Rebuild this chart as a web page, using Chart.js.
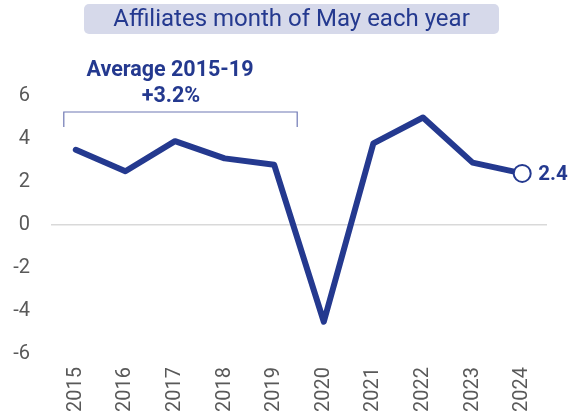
<!DOCTYPE html>
<html>
<head>
<meta charset="utf-8">
<script src="https://cdn.jsdelivr.net/npm/chart.js@4"></script>
<style>
  html, body { margin: 0; padding: 0; background: #ffffff; }
  #wrap { width: 569px; height: 420px; }
</style>
</head>
<body>
<div id="wrap"><canvas id="c" width="569" height="420"></canvas></div>
<script>
const years = ['2015','2016','2017','2018','2019','2020','2021','2022','2023','2024'];
const affiliates = [3.5, 2.5, 3.9, 3.1, 2.8, -4.5, 3.8, 5.0, 2.9, 2.4];
const yTicks = [-6, -4, -2, 0, 2, 4, 6];
const titleText = 'Affiliates month of May each year';
const avgLabel = ['Average 2015-19', '+3.2%'];
const avgRange = [0, 4];

const NAVY = '#24398f';
const GREY = '#595959';

const overlay = {
  id: 'overlay',
  afterDraw(chart) {
    const ctx = chart.ctx;
    const xs = chart.scales.x, ys = chart.scales.y;
    ctx.save();
    // title box
    const bx = 84, by = 4, bw = 415, bh = 30, r = 5;
    ctx.fillStyle = '#d6d9ea';
    ctx.beginPath();
    ctx.roundRect(bx, by, bw, bh, r);
    ctx.fill();
    ctx.fillStyle = NAVY;
    ctx.font = '24px Roboto';
    ctx.textAlign = 'center';
    ctx.textBaseline = 'middle';
    ctx.fillText(titleText, bx + bw / 2, by + bh / 2 + 1);

    // bracket
    const l = xs.getPixelForValue(avgRange[0]) - 12;
    const rr = xs.getPixelForValue(avgRange[1]) + 23;
    ctx.strokeStyle = '#6f78b4';
    ctx.lineWidth = 1.2;
    ctx.beginPath();
    ctx.moveTo(l, 127);
    ctx.lineTo(l, 112);
    ctx.lineTo(rr, 112);
    ctx.lineTo(rr, 127);
    ctx.stroke();

    // avg text
    ctx.fillStyle = NAVY;
    ctx.font = 'bold 21.5px Roboto';
    ctx.textAlign = 'center';
    ctx.fillText(avgLabel[0], 170, 71);
    ctx.fillText(avgLabel[1], 171, 97);

    // end label
    const last = affiliates.length - 1;
    const px = xs.getPixelForValue(last);
    const py = ys.getPixelForValue(affiliates[last]);
    ctx.font = 'bold 20.5px Roboto';
    ctx.textAlign = 'left';
    ctx.fillText(String(affiliates[last]), px + 16, py + 1);
    ctx.restore();
  }
};

new Chart(document.getElementById('c'), {
  type: 'line',
  data: {
    labels: years,
    datasets: [{
      data: affiliates,
      borderColor: NAVY,
      borderWidth: 6,
      borderJoinStyle: 'round',
      borderCapStyle: 'round',
      tension: 0,
      pointRadius: (c) => c.dataIndex === affiliates.length - 1 ? 8.5 : 0,
      pointBackgroundColor: '#ffffff',
      pointBorderColor: NAVY,
      pointBorderWidth: 2,
      pointHoverRadius: 0,
      clip: false
    }]
  },
  options: {
    responsive: false,
    animation: false,
    events: [],
    layout: { padding: { top: 96, right: 22, left: 0, bottom: 0 } },
    plugins: { legend: { display: false }, tooltip: { enabled: false }, title: { display: false } },
    scales: {
      x: {
        offset: true,
        grid: { display: false, drawTicks: false },
        border: { display: false },
        ticks: {
          color: GREY,
          font: { family: 'Roboto', size: 20 },
          minRotation: 90, maxRotation: 90,
          padding: 13,
          autoSkip: false
        },
        afterFit(s) { s.height = 66; }
      },
      y: {
        min: -6, max: 6,
        afterBuildTicks(s) { s.ticks = yTicks.map(v => ({ value: v })); },
        grid: {
          drawTicks: false,
          color: (c) => c.tick && c.tick.value === 0 ? '#d9d9d9' : 'rgba(0,0,0,0)',
          lineWidth: 1.5
        },
        border: { display: false },
        ticks: {
          color: GREY,
          font: { family: 'Roboto', size: 20 },
          padding: 21
        },
        afterFit(s) { s.width = 51; }
      }
    }
  },
  plugins: [overlay]
});
</script>
</body>
</html>
